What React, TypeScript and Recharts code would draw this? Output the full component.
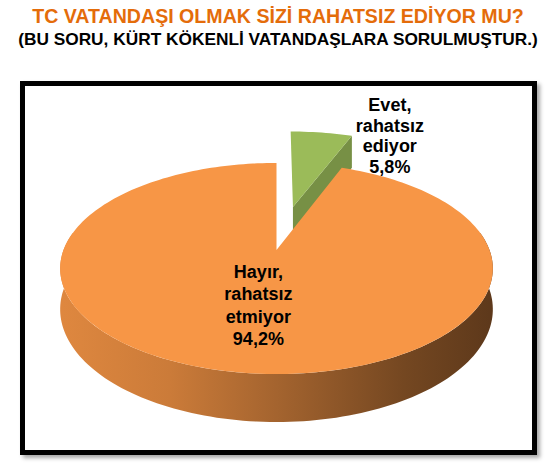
import React from "react";
import { PieChart, Pie } from "recharts";

// answers and their shares (%)
const categories = ["Evet, rahatsız ediyor", "Hayır, rahatsız etmiyor"];
const shares = [5.8, 94.2];
const sliceColors = ["#9bbb59", "#f79646"];
const explodeBy = [0.46, 0];

const data = categories.map((name, i) => ({ name, value: shares[i] }));

const title = "TC VATANDAŞI OLMAK SİZİ RAHATSIZ EDİYOR MU?";
const subtitle = "(BU SORU, KÜRT KÖKENLİ VATANDAŞLARA SORULMUŞTUR.)";

const FONT = '"Liberation Sans", Arial, sans-serif';

// fake 3D: squashed, slightly perspective disc
const CX = 271.5;
const CY = 245;
const RX = 213;
const Y_RATIO = 102.3 / 213;
const DEPTH = 39.6;
const PERSP = 0.175;

const RAD = Math.PI / 180;

const shade = (hex: string, k: number) => {
  const n = parseInt(hex.slice(1), 16);
  const c = [(n >> 16) & 255, (n >> 8) & 255, n & 255].map((v) => Math.round(v * k));
  return `rgb(${c[0]},${c[1]},${c[2]})`;
};

const toPath = (pts: number[][]) =>
  pts.map((p, i) => `${i ? "L" : "M"}${p[0].toFixed(2)},${p[1].toFixed(2)}`).join(" ") + " Z";

const Slice3D = (props: any) => {
  const { cx, cy, outerRadius: r, startAngle, endAngle, midAngle, index, percent } = props;
  const color = sliceColors[index];
  const lo = Math.min(startAngle, endAngle);
  const hi = Math.max(startAngle, endAngle);
  const e = explodeBy[index] || 0;
  const eu = e * Math.cos(midAngle * RAD);
  const ev = e * Math.sin(midAngle * RAD);

  const project = (u: number, v: number, h: number) => {
    const s = 1 / (1 + PERSP * v);
    return [cx + r * u * s, cy - Y_RATIO * r * v * s + h * DEPTH * s];
  };
  const pt = (deg: number, f: number, h: number) =>
    project(f * Math.cos(deg * RAD) + eu, f * Math.sin(deg * RAD) + ev, h);
  const arc = (a: number, b: number, h: number) => {
    const out: number[][] = [];
    const n = Math.max(2, Math.ceil((b - a) / 1.5));
    for (let i = 0; i <= n; i++) out.push(pt(a + ((b - a) * i) / n, 1, h));
    return out;
  };

  const walls: string[] = [];
  [-360, 0, 360].forEach((k) => {
    const a = Math.max(lo, -190 + k);
    const b = Math.min(hi, 10 + k);
    if (b > a) walls.push(toPath([...arc(a, b, 0), ...arc(a, b, 1).reverse()]));
  });

  const faces: string[] = [];
  const face = (deg: number) =>
    toPath([pt(deg, 0, 0), pt(deg, 1, 0), pt(deg, 1, 1), pt(deg, 0, 1)]);
  if (Math.cos(lo * RAD) > 0.05) faces.push(face(lo));
  if (Math.cos(hi * RAD) < -0.05) faces.push(face(hi));

  const top = toPath([pt(0, 0, 0), ...arc(lo, hi, 0)]);
  const gid = `wall-${index}`;

  // label placement
  const small = percent < 0.1;
  let lx: number;
  let ly: number;
  if (small) {
    const corner = pt(lo, 1, 0);
    lx = corner[0] + 38;
    ly = corner[1];
  } else {
    const m = pt(midAngle, 0.5, 0);
    lx = m[0] + 3;
    ly = m[1];
  }
  const lineH = small ? 20.5 : 22.5;
  const lines = [...categories[index].split(" "), `${shares[index].toFixed(1).replace(".", ",")}%`];
  const firstBase = ly - ((lines.length - 1) * lineH) / 2 + 6.4;

  return (
    <g>
      <defs>
        <linearGradient id={gid} gradientUnits="userSpaceOnUse" x1={cx - r} y1={0} x2={cx + r} y2={0}>
          <stop offset="0" stopColor={shade(color, 0.9)} />
          <stop offset="0.25" stopColor={shade(color, 0.82)} />
          <stop offset="0.52" stopColor={shade(color, 0.65)} />
          <stop offset="0.8" stopColor={shade(color, 0.47)} />
          <stop offset="1" stopColor={shade(color, 0.38)} />
        </linearGradient>
      </defs>
      {walls.map((d, i) => (
        <path key={`w${i}`} d={d} fill={`url(#${gid})`} />
      ))}
      {faces.map((d, i) => (
        <path key={`f${i}`} d={d} fill={shade(color, 0.77)} />
      ))}
      <path d={top} fill={color} />
      <text
        x={lx}
        textAnchor="middle"
        fontFamily={FONT}
        fontWeight="bold"
        fontSize={18}
        fill="#000"
      >
        {lines.map((t, i) => (
          <tspan key={i} x={lx} y={firstBase + i * lineH}>
            {t}
          </tspan>
        ))}
      </text>
    </g>
  );
};

export default function App() {
  return (
    <div
      style={{
        position: "absolute",
        left: 0,
        top: 0,
        width: 556,
        height: 466,
        background: "#fff",
        fontFamily: FONT,
      }}
    >
      <div
        style={{
          position: "absolute",
          left: 0,
          top: 6,
          width: 556,
          textAlign: "center",
          fontSize: 19.6,
          lineHeight: "20px",
          fontWeight: "bold",
          color: "#e46c0a",
          whiteSpace: "nowrap",
        }}
      >
        {title}
      </div>
      <div
        style={{
          position: "absolute",
          left: 0,
          top: 31,
          width: 556,
          textAlign: "center",
          fontSize: 17.3,
          lineHeight: "17px",
          fontWeight: "bold",
          color: "#000",
          whiteSpace: "nowrap",
        }}
      >
        {subtitle}
      </div>
      <div
        style={{
          position: "absolute",
          left: 20,
          top: 81,
          width: 517,
          height: 374,
          border: "5px solid #000",
          boxSizing: "border-box",
          background: "#fff",
          boxShadow: "3px 3px 4px rgba(0,0,0,0.35)",
        }}
      />
      <div style={{ position: "absolute", left: 0, top: 0 }}>
        <PieChart width={556} height={466}>
          <Pie
            data={data}
            dataKey="value"
            nameKey="name"
            cx={CX}
            cy={CY}
            outerRadius={RX}
            startAngle={90}
            endAngle={-270}
            fill="none"
            stroke="none"
            labelLine={false}
            label={Slice3D}
            isAnimationActive={false}
          />
        </PieChart>
      </div>
    </div>
  );
}
